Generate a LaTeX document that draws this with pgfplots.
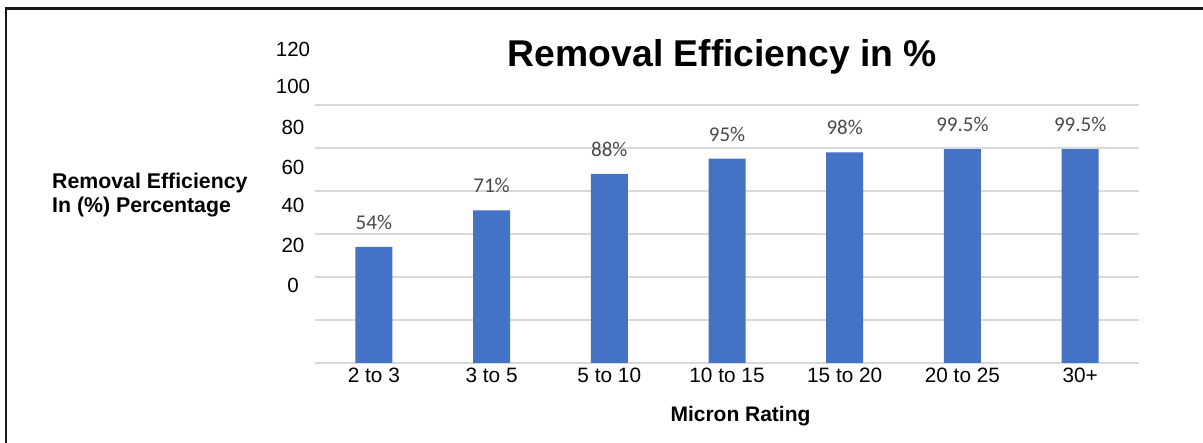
\documentclass[border=0pt]{standalone}
\usepackage{pgfplots}
\pgfplotsset{compat=1.18}
\usepackage{pgfplotstable}
\usepackage{fontspec}
\setmainfont{Liberation Sans}
\newfontfamily\carlito{Carlito}
\definecolor{barblue}{HTML}{4472C4}
\definecolor{gridgray}{HTML}{D9D9D9}
\definecolor{lblgray}{HTML}{4A4A4A}

\pgfplotstableread{
x y lbl
0 54 54\%
1 71 71\%
2 88 88\%
3 95 95\%
4 98 98\%
5 99.5 99.5\%
6 99.5 99.5\%
}\efficiency

\begin{document}
\begin{tikzpicture}
\useasboundingbox (0,0) rectangle (1203pt,-443pt);
\fill[white] (0,0) rectangle (1203pt,-443pt);
\draw[line width=2.5pt, color=black!90] (6.2pt,-445pt) -- (6.2pt,-8.3pt) -- (1205pt,-8.3pt);
\begin{axis}[
  at={(315pt,-363pt)}, anchor=south west,
  scale only axis, width=824pt, height=258pt,
  xmin=-0.5, xmax=6.5, ymin=0, ymax=120,
  axis line style={draw=none},
  major tick length=0pt,
  ytick={0,20,...,120}, yticklabels={},
  ymajorgrids, grid style={color=gridgray, line width=1.6pt},
  xtick={0,...,6},
  xticklabels={2 to 3, 3 to 5, 5 to 10, 10 to 15, 15 to 20, 20 to 25, 30+},
  xticklabel style={font=\fontsize{20.8}{24}\selectfont, anchor=base, inner sep=0pt, yshift=-19.3pt},
  ybar, bar width=37pt,
  nodes near coords={\pgfplotspointmeta},
  point meta=explicit symbolic,
  every node near coord/.append style={font=\carlito\fontsize{21}{25}\selectfont, color=lblgray, anchor=base, inner sep=0pt, yshift=17.7pt},
  clip=false,
]
\addplot[fill=barblue, draw=none] table[x=x, y=y, meta=lbl] {\efficiency};
\end{axis}
% title
\node[anchor=base, inner sep=0pt, font=\bfseries\fontsize{37.3}{44}\selectfont] at (722.5pt,-66.7pt) {Removal Efficiency in \%};
% y axis title
\node[anchor=base west, inner sep=0pt, font=\bfseries\fontsize{21.3}{25}\selectfont] at (52pt,-188.3pt) {Removal Efficiency};
\node[anchor=base west, inner sep=0pt, font=\bfseries\fontsize{21.3}{25}\selectfont] at (52pt,-213pt) {In (\%) Percentage};
% y tick labels (as placed in the original)
\foreach \v/\b in {120/56.7, 100/93.3, 80/135, 60/175, 40/213, 20/253, 0/293}{
  \node[anchor=base, inner sep=0pt, font=\fontsize{20.5}{24}\selectfont] at (293pt,-\b pt) {\v};
}
% x axis title
\node[anchor=base, inner sep=0pt, font=\bfseries\fontsize{21}{25}\selectfont] at (740.5pt,-422pt) {Micron Rating};
\end{tikzpicture}
\end{document}
